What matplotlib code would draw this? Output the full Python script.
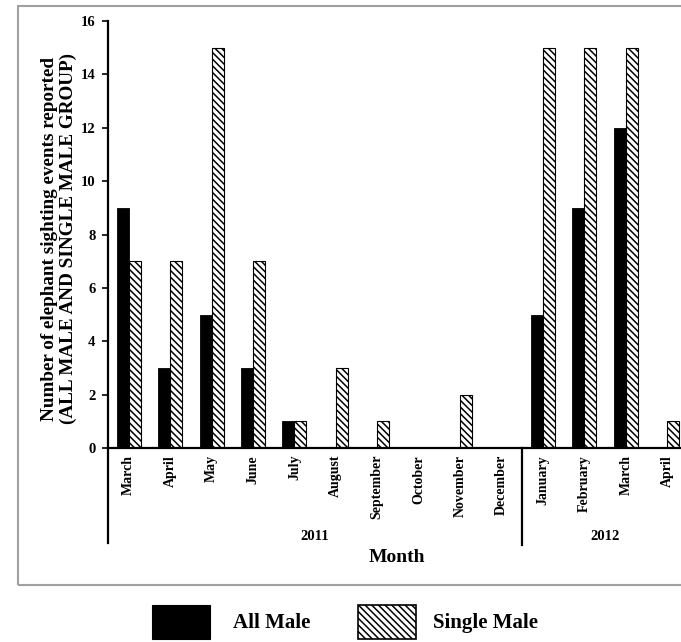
import matplotlib
matplotlib.use("Agg")
import matplotlib.pyplot as plt
from matplotlib.patches import Rectangle

# Monthly sighting counts, March 2011 - April 2012
months = ["March", "April", "May", "June", "July", "August", "September",
          "October", "November", "December", "January", "February", "March", "April"]
years = ["2011", "2012"]
months_per_year = [10, 4]
all_male = [9, 3, 5, 3, 1, 0, 0, 0, 0, 0, 5, 9, 12, 0]
single_male = [7, 7, 15, 7, 1, 3, 1, 0, 2, 0, 15, 15, 15, 1]
y_ticks = [0, 2, 4, 6, 8, 10, 12, 14, 16]

plt.rcParams["font.family"] = ["Liberation Serif", "DejaVu Serif"]
plt.rcParams["font.weight"] = "bold"
plt.rcParams["hatch.linewidth"] = 1.1

W, H = 681, 642
fig = plt.figure(figsize=(W / 100, H / 100), dpi=100)


def fx(px):
    return px / W


def fy(py):
    return 1 - py / H


# axes: y-axis at x=108px, zero line at y=448px, top (16) at y=21px
ax_left, ax_right = 108, 688
ax_top, ax_bottom = 21, 448
ax = fig.add_axes([fx(ax_left), fy(ax_bottom), fx(ax_right - ax_left),
                   (ax_bottom - ax_top) / H])

n = len(months)
xs = list(range(n))
w = 0.29
ax.bar([x - w for x in xs], all_male, width=w, align="edge",
       color="black", edgecolor="black", linewidth=0.6, label="All Male")
ax.bar(xs, single_male, width=w, align="edge", color="white",
       edgecolor="black", linewidth=0.8, hatch="\\\\\\\\\\", label="Single Male")

ax.set_xlim(-0.5, n - 0.5)
ax.set_ylim(0, 16)
ax.set_yticks(y_ticks)
ax.set_yticklabels([str(t) for t in y_ticks], fontsize=10.5, fontweight="bold")
ax.set_xticks(xs)
ax.set_xticklabels(months, rotation=90, fontsize=10, fontweight="bold",
                   va="top")
ax.tick_params(axis="x", length=0, pad=5)
ax.tick_params(axis="y", length=4, width=1.2, direction="out", pad=5)

for s in ["top", "right"]:
    ax.spines[s].set_visible(False)
ax.spines["left"].set_linewidth(1.6)
ax.spines["bottom"].set_linewidth(1.6)

# extend y-axis below zero and draw the year separator
ext = (543 - ax_bottom) / (ax_bottom - ax_top)
ax.plot([0, 0], [0, -ext], transform=ax.transAxes, color="black",
        lw=1.6, clip_on=False)
sep_x = months_per_year[0] - 0.5
trans = ax.get_xaxis_transform()
ax.plot([sep_x, sep_x], [0, -(545 - ax_bottom) / (ax_bottom - ax_top)],
        transform=trans, color="black", lw=1.6, clip_on=False)

# year labels
fig.text(fx(315), fy(537), years[0], ha="center", va="center",
         fontsize=10.5, fontweight="bold")
fig.text(fx(605), fy(537), years[1], ha="center", va="center",
         fontsize=10.5, fontweight="bold")

fig.text(fx(397), fy(558), "Month", ha="center", va="center",
         fontsize=14, fontweight="bold")

fig.text(fx(59), fy(239),
         "Number of elephant sighting events reported\n(ALL MALE AND SINGLE MALE GROUP)",
         rotation=90, ha="center", va="center", multialignment="center",
         fontsize=13.8, fontweight="bold", linespacing=1.1)

# outer frame
fig.patches.append(Rectangle((fx(18), fy(585)), fx(700 - 18), (585 - 6) / H,
                             transform=fig.transFigure, fill=False,
                             edgecolor="#a0a0a0", lw=1.5))

# legend below the frame
fig.patches.append(Rectangle((fx(152), fy(639)), fx(58), 34 / H,
                             transform=fig.transFigure, facecolor="black",
                             edgecolor="black", lw=0.8))
fig.text(fx(233), fy(623), "All Male", ha="left", va="center",
         fontsize=15, fontweight="bold")
fig.patches.append(Rectangle((fx(358), fy(639)), fx(58), 34 / H,
                             transform=fig.transFigure, facecolor="white",
                             edgecolor="black", lw=1.2, hatch="\\\\\\\\\\"))
fig.text(fx(433), fy(623), "Single Male", ha="left", va="center",
         fontsize=15, fontweight="bold")

fig.savefig("out.png", dpi=100)
